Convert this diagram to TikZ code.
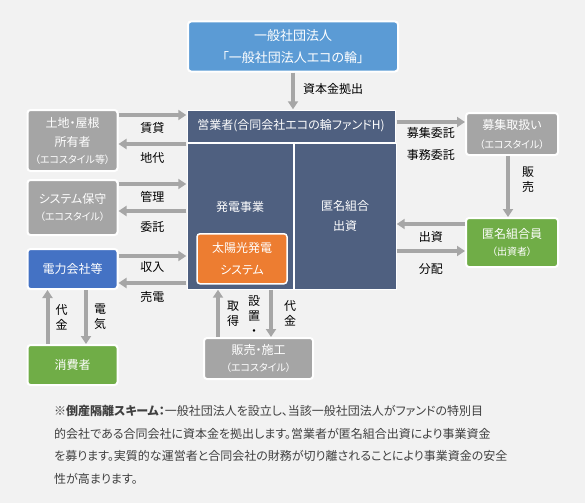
\documentclass[tikz,border=0pt]{standalone}
\usepackage{fontspec}
\setmainfont[RawFeature=+palt]{Noto Sans CJK JP}
\usepackage{tikz}
\usetikzlibrary{arrows.meta, positioning, fit}
\definecolor{bgcol}{HTML}{F2F2F2}
\definecolor{topblue}{HTML}{5B9BD5}
\definecolor{opcol}{HTML}{4F6080}
\definecolor{pvorange}{HTML}{ED7D31}
\definecolor{boxgray}{HTML}{A5A5A5}
\definecolor{powerblue}{HTML}{4472C4}
\definecolor{boxgreen}{HTML}{70AD47}
\definecolor{arrowgray}{HTML}{A6A6A6}
\definecolor{notegray}{HTML}{404040}
\newcommand{\subfont}{\fontsize{10}{14}\selectfont}
\tikzstyle{arrow}=[-{Triangle[length=8pt,width=10pt]}, line width=4pt, color=arrowgray]

\begin{document}
\begin{tikzpicture}[x=1pt, y=-1pt, node distance=7pt and 70pt,
  box/.style={rectangle, rounded corners=3pt, draw=white, line width=2pt, text=white,
              align=center, inner sep=0pt, font=\fontsize{12}{19}\selectfont},
  opbox/.style={rectangle, draw=white, line width=1pt, fill=opcol, text=white,
                align=center, inner sep=0pt, font=\fontsize{12}{20}\selectfont},
  lbl/.style={font=\fontsize{12}{15}\selectfont, text=black, inner sep=0pt, align=center}
]
\path[use as bounding box, fill=bgcol] (0,0) rectangle (585,503);

\node[opbox, minimum width=208pt, minimum height=32pt] (head_n) at (291,126)
     {営業者(合同会社エコの輪ファンドH)};
\node[opbox, minimum width=106pt, minimum height=146pt,
      below right=0pt and 0pt of head_n.south west] (gen_n) {};
\node[opbox, minimum width=102pt, minimum height=146pt, right=0pt of gen_n] (inv_n) {匿名組合\\出資};
\node[lbl, text=white] (genlbl_n) at ([yshift=9pt]gen_n.center) {発電事業};
\node[box, fill=pvorange, line width=1.5pt, minimum width=90pt, minimum height=50pt,
      above=5pt of gen_n.south, xshift=2pt, font=\fontsize{12}{22}\selectfont] (pv_n) {太陽光発電\\システム};
\node[fit=(head_n)(gen_n)(inv_n), inner sep=0pt] (op_n) {};

\node[box, fill=topblue, minimum width=210pt, minimum height=50pt, above=37pt of head_n,
      xshift=2pt, font=\fontsize{13}{22}\selectfont] (top_n) {一般社団法人\\「一般社団法人エコの輪」};

\node[box, fill=boxgray, minimum width=90pt, minimum height=61pt] (land_n) at (72.5,140.5)
     {土地・屋根\\所有者\\[-2pt]{\subfont （エコスタイル等）}};
\node[box, fill=boxgray, minimum width=90pt, minimum height=55pt, below=7pt of land_n]
     (sys_n) {システム保守\\[-2pt]{\subfont （エコスタイル）}};
\node[box, fill=powerblue, minimum width=90pt, minimum height=40pt, below=12pt of sys_n]
     (power_n) {電力会社等};
\node[box, fill=boxgreen, minimum width=90pt, minimum height=40pt, below=54pt of power_n]
     (user_n) {消費者};

\node[box, fill=boxgray, minimum width=109pt, minimum height=41pt] (sales_n) at (258.5,358.5)
     {販売・施工\\[-2pt]{\subfont （エコスタイル）}};
\node[box, fill=boxgray, minimum width=92pt, minimum height=42pt] (rec_n) at (512,134)
     {募集取扱い\\{\subfont （エコスタイル）}};
\node[box, fill=boxgreen, minimum width=92pt, minimum height=49pt, below=61pt of rec_n]
     (fund_n) {匿名組合員\\[-2pt]{\subfont （出資者）}};

\draw[arrow] (top_n.south) -- (top_n.south |- op_n.north)
     node[lbl, midway, xshift=40pt, yshift=2pt] {資本金拠出};

\draw[arrow] ([yshift=25.5pt]land_n.east) -- ([yshift=25.5pt]land_n.east -| op_n.west)
     node[lbl, midway, yshift=-13pt] {賃貸};
\draw[arrow] ([yshift=-3.5pt]land_n.east -| op_n.west) -- ([yshift=-3.5pt]land_n.east)
     node[lbl, midway, yshift=-14pt] {地代};
\draw[arrow] ([yshift=23.5pt]sys_n.east) -- ([yshift=23.5pt]sys_n.east -| op_n.west)
     node[lbl, midway, yshift=-13pt] {管理};
\draw[arrow] ([yshift=-3.5pt]sys_n.east -| op_n.west) -- ([yshift=-3.5pt]sys_n.east)
     node[lbl, midway, yshift=-16pt] {委託};
\draw[arrow] ([yshift=13pt]power_n.east) -- ([yshift=13pt]power_n.east -| op_n.west)
     node[lbl, midway, yshift=-11pt] {収入};
\draw[arrow] ([yshift=-14pt]power_n.east -| op_n.west) -- ([yshift=-14pt]power_n.east)
     node[lbl, midway, yshift=-14pt] {売電};

\draw[arrow] ([yshift=12pt]rec_n.west -| op_n.east) -- ([yshift=12pt]rec_n.west)
     node[lbl, midway, yshift=-11pt] {募集委託}
     node[lbl, midway, yshift=-33pt] {事務委託};
\draw[arrow] ([yshift=18.5pt]fund_n.west) -- ([yshift=18.5pt]fund_n.west -| op_n.east)
     node[lbl, midway, yshift=-13pt] {出資};
\draw[arrow] ([yshift=-8.5pt]fund_n.west -| op_n.east) -- ([yshift=-8.5pt]fund_n.west)
     node[lbl, midway, yshift=-18pt] {分配};
\draw[arrow] ([xshift=-4pt]rec_n.south) -- ([xshift=-4pt]rec_n.south |- fund_n.north)
     node[lbl, midway, xshift=20pt, yshift=7pt] {販\\売};

\draw[arrow] ([xshift=-25pt]user_n.north) -- ([xshift=-25pt]user_n.north |- power_n.south)
     node[lbl, midway, xshift=14pt] {代\\金};
\draw[arrow] ([xshift=13.5pt]power_n.south) -- ([xshift=13.5pt]power_n.south |- user_n.north)
     node[lbl, midway, xshift=14pt] {電\\気};

\draw[arrow] ([xshift=-40.5pt]sales_n.north) -- ([xshift=-40.5pt]sales_n.north |- op_n.south)
     node[lbl, midway, xshift=15pt] {取\\得};
\draw[arrow] ([xshift=12.5pt]sales_n.north |- op_n.south) -- ([xshift=12.5pt]sales_n.north)
     node[lbl, midway, xshift=-17pt, yshift=-2pt] {設\\置\\・}
     node[lbl, midway, xshift=19pt] {代\\金};

\node[anchor=north west, align=left, text=notegray, inner sep=0pt,
      font=\fontsize{12}{22.7}\selectfont] (note_n) at (54,405)
     {{\bfseries ※倒産隔離スキーム：}一般社団法人を設立し、当該一般社団法人がファンドの特別目\\
      的会社である合同会社に資本金を拠出します。営業者が匿名組合出資により事業資金\\
      を募ります。実質的な運営者と合同会社の財務が切り離されることにより事業資金の安全\\
      性が高まります。};
\end{tikzpicture}
\end{document}
